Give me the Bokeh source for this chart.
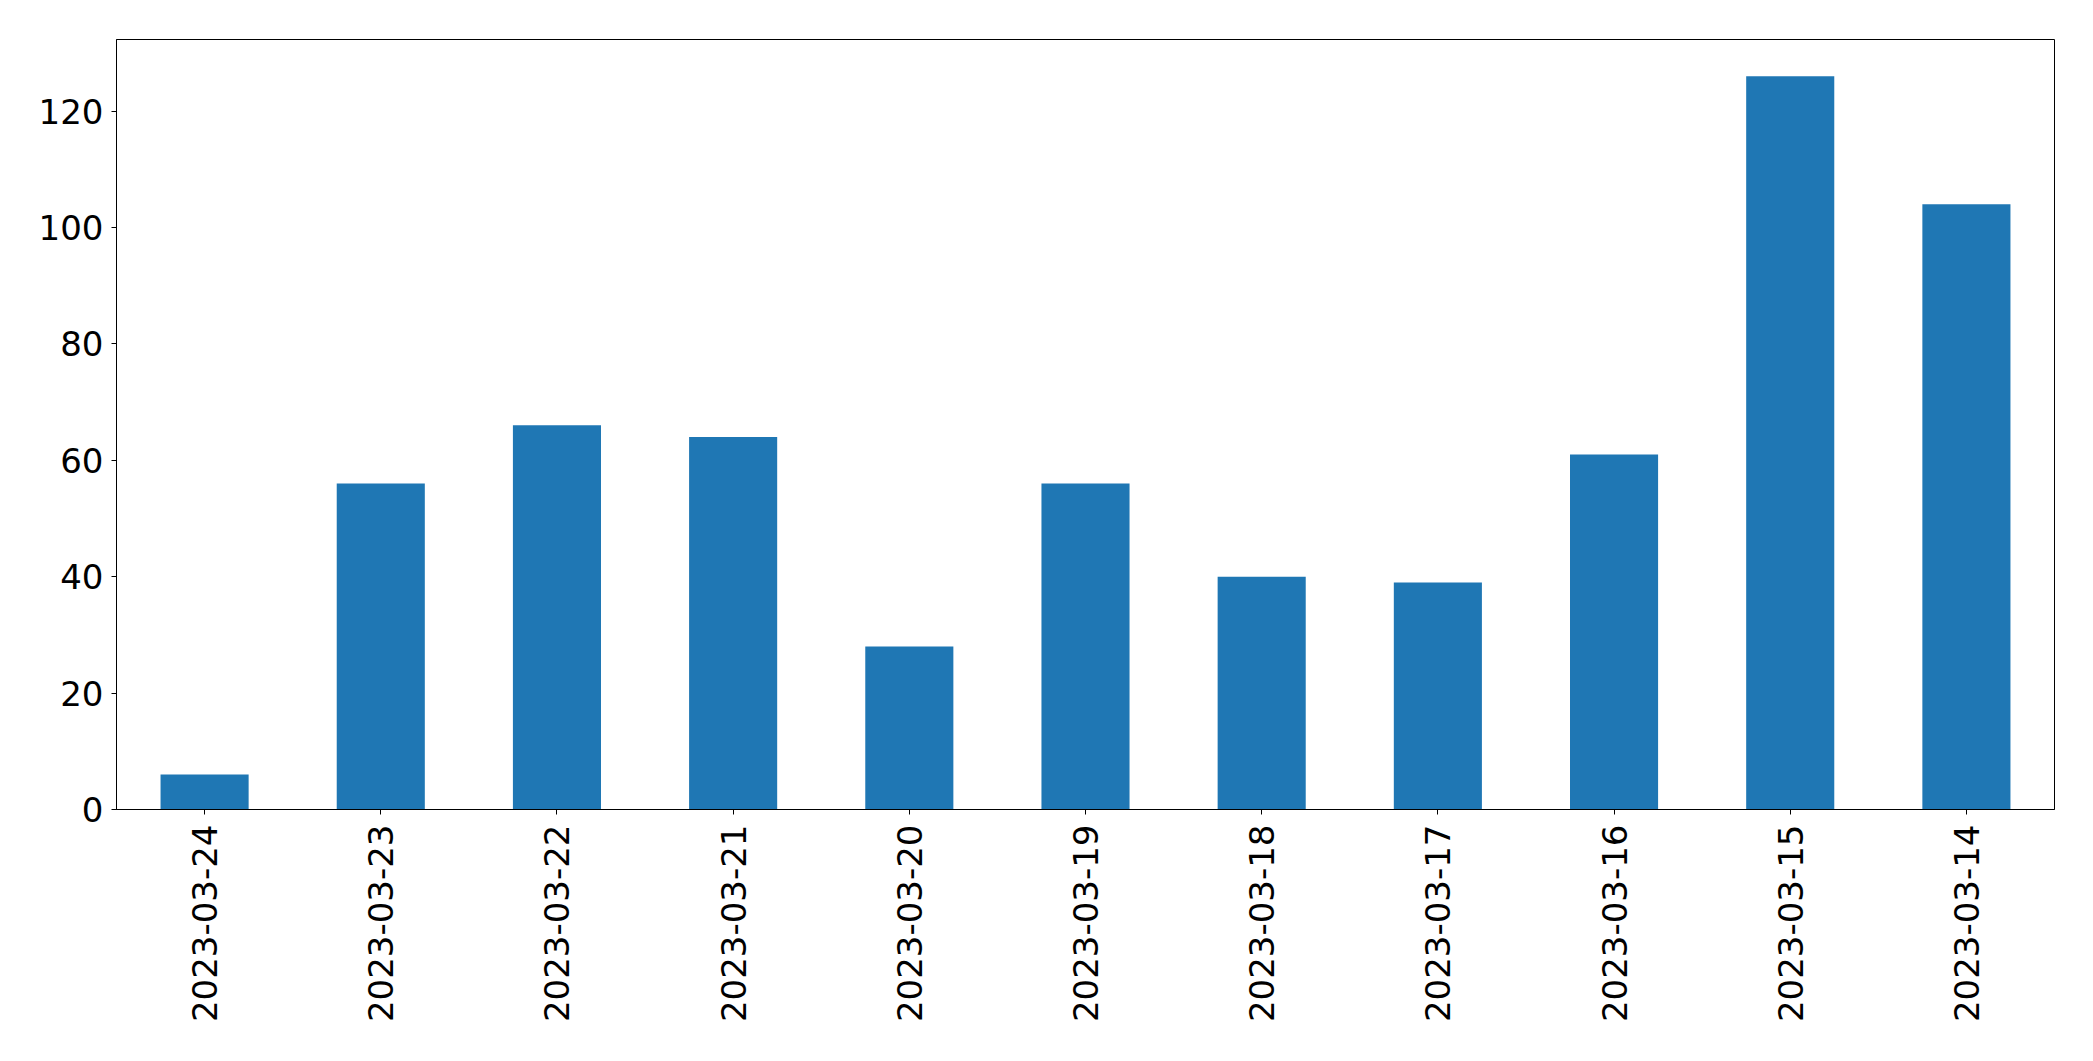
import math

from bokeh.plotting import figure
from bokeh.models import FactorRange, Range1d, SingleIntervalTicker
from bokeh.embed import file_html
from bokeh.resources import INLINE

# daily counts, newest first (as in the source chart)
dates = [
    "2023-03-24", "2023-03-23", "2023-03-22", "2023-03-21",
    "2023-03-20", "2023-03-19", "2023-03-18", "2023-03-17",
    "2023-03-16", "2023-03-15", "2023-03-14",
]
counts = [6, 56, 66, 64, 28, 56, 40, 39, 61, 126, 104]

FONT = "DejaVu Sans"
SIZE = "34px"


def make_figure():
    p = figure(
        x_range=FactorRange(factors=dates, range_padding=0),
        y_range=Range1d(0, max(counts) * 1.05),
        frame_width=1938,
        frame_height=770,
        min_border_left=116,
        min_border_right=23,
        min_border_top=39,
        min_border_bottom=220,
        output_backend="svg",
        toolbar_location=None,
        background_fill_color="white",
        border_fill_color="white",
    )
    p.vbar(x=dates, top=counts, width=0.5, color="#1f77b4", line_color=None)

    p.xgrid.visible = False
    p.ygrid.visible = False
    p.outline_line_color = "black"
    p.outline_line_width = 1

    p.yaxis.ticker = SingleIntervalTicker(interval=20, num_minor_ticks=0)
    for ax in (p.xaxis, p.yaxis):
        ax.axis_line_color = "black"
        ax.major_tick_line_color = "black"
        ax.major_tick_out = 5
        ax.major_tick_in = 0
        ax.minor_tick_line_color = None
        ax.major_label_text_font = FONT
        ax.major_label_text_font_size = SIZE
        ax.major_label_text_color = "black"
    p.yaxis.major_label_standoff = 8
    p.xaxis.major_label_standoff = 10
    # text reads bottom to top
    p.xaxis.major_label_orientation = math.pi / 2
    return p


def main():
    p = make_figure()
    open("out.html", "w").write(file_html(p, INLINE))


if __name__ == "__main__":
    main()
